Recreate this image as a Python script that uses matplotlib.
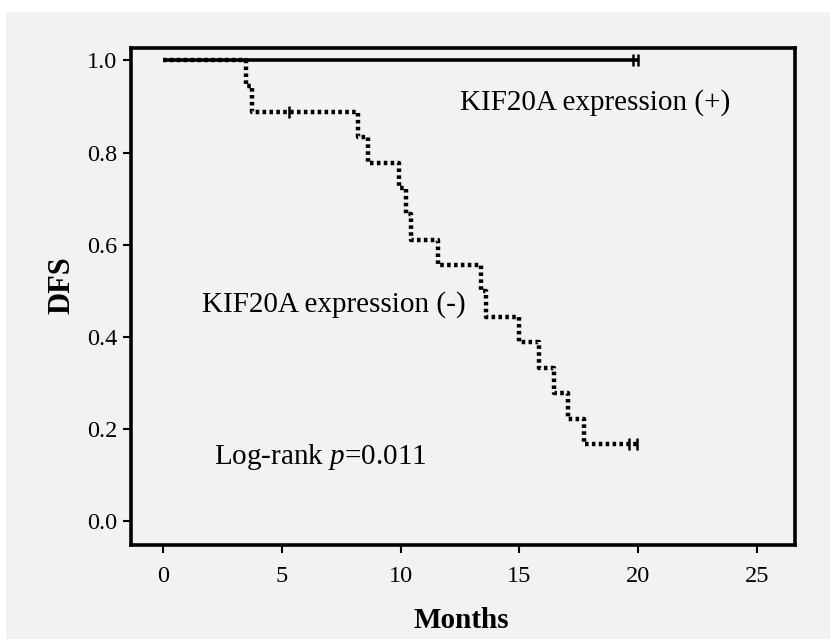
import matplotlib.pyplot as plt
import matplotlib.patches as mpatches
import numpy as np

# KIF20A expression (-) : step times and DFS levels
neg_times = [0, 3.49, 3.74, 8.19, 8.61, 9.93, 10.24, 10.45, 11.58,
             13.38, 13.59, 15.0, 15.84, 16.44, 17.06, 17.73]
neg_surv = [1.0, 0.944, 0.889, 0.833, 0.778, 0.722, 0.667, 0.611, 0.556,
            0.5, 0.444, 0.389, 0.333, 0.278, 0.222, 0.167]
neg_end = 19.95
neg_censor = [5.30, 19.6, 19.95]

# KIF20A expression (+) : no events
pos_times = [0]
pos_surv = [1.0]
pos_end = 20.0
pos_censor = [19.8, 20.0]

xticks = [0, 5, 10, 15, 20, 25]
yticks = [0.0, 0.2, 0.4, 0.6, 0.8, 1.0]

plt.rcParams['font.family'] = ['Liberation Serif', 'DejaVu Serif']
plt.rcParams['mathtext.fontset'] = 'custom'
plt.rcParams['mathtext.rm'] = 'Liberation Serif'
plt.rcParams['mathtext.it'] = 'Liberation Serif:italic'

fig = plt.figure(figsize=(8.30, 6.39), dpi=100)
fig.patch.set_facecolor('white')
fig.patches.append(mpatches.Rectangle((6 / 830, 0), 1, 1 - 12 / 639,
                                      transform=fig.transFigure,
                                      facecolor='#f2f2f2', edgecolor='none',
                                      zorder=-1))
ax = fig.add_axes([131 / 830, 1 - 545 / 639, 664 / 830, 497 / 639])
ax.set_facecolor('#f2f2f2')


def step_value(times, surv, t):
    idx = np.searchsorted(times, t, side='right') - 1
    return surv[idx]


# (+) curve, solid
px = pos_times + [pos_end]
py = pos_surv + [pos_surv[-1]]
ax.step(px, py, where='post', color='black', lw=2.6, solid_capstyle='butt')
ax.plot(pos_censor, [step_value(pos_times, pos_surv, t) for t in pos_censor],
        ls='none', marker='|', ms=9, mew=1.8, color='black')

# (-) curve, dotted
nx = neg_times + [neg_end]
ny = neg_surv + [neg_surv[-1]]
ax.step(nx, ny, where='post', color='black', lw=3.2,
        linestyle=(0, (0.8, 0.75)), dash_capstyle='butt')
ax.plot(neg_censor, [step_value(neg_times, neg_surv, t) for t in neg_censor],
        ls='none', marker='|', ms=9, mew=1.8, color='black')

ax.set_xlim(-1.35, 26.6)
ax.set_ylim(-0.052, 1.027)
ax.set_xticks(xticks)
ax.set_yticks(yticks)
ax.set_yticklabels(['%.1f' % v for v in yticks])
ax.tick_params(direction='out', length=6, width=1.5, labelsize=17.5,
               colors='black', pad=4)
ax.tick_params(axis='x', pad=9)
for s in ax.spines.values():
    s.set_linewidth(2.6)

ax.set_xlabel('Months', fontsize=21, fontweight='bold')
ax.set_ylabel('DFS', fontsize=22, fontweight='bold')
ax.xaxis.set_label_coords((461 - 131) / 664, (545 - 607) / 497)
ax.yaxis.set_label_coords((76 - 131) / 664, (545 - 285) / 497)

ax.text(12.5, 0.893, 'KIF20A expression (+)', fontsize=21, va='baseline')
ax.text(1.65, 0.4545, 'KIF20A expression (-)', fontsize=21, va='baseline')
ax.text(2.16, 0.123, 'Log-rank $p$=0.011', fontsize=21, va='baseline')

fig.savefig('out.png', dpi=100, facecolor=fig.get_facecolor())
